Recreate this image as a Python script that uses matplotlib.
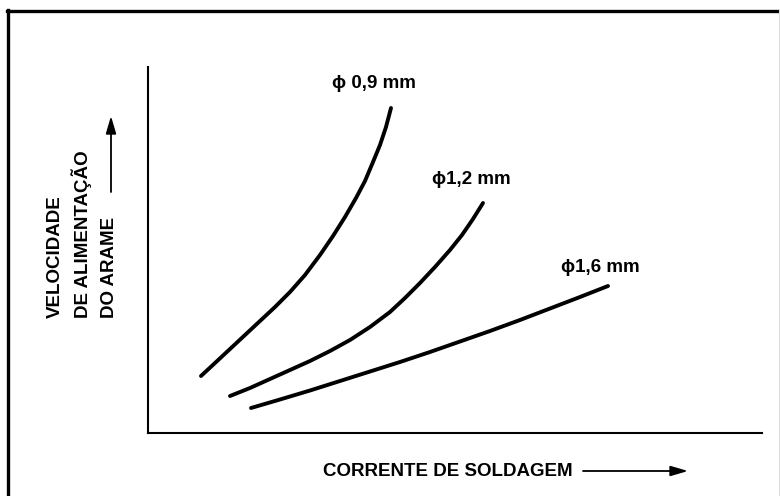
import matplotlib.pyplot as plt
from matplotlib.lines import Line2D

# Dados (unidades arbitrarias, sem escala no original)
x_09 = [53, 67, 82, 97, 112, 127, 142, 157, 172, 185, 197, 208, 217, 225, 232, 238, 243]
y_09 = [57, 70, 84, 98, 112, 126, 141, 158, 178, 197, 216, 235, 252, 271, 288, 306, 325]

x_12 = [82, 102, 122, 142, 162, 182, 202, 222, 242, 257, 272, 287, 302, 314, 325, 335]
y_12 = [37, 45, 54, 63, 72, 82, 93, 106, 121, 135, 150, 166, 183, 198, 214, 230]

x_16 = [103, 132, 162, 192, 222, 252, 282, 312, 342, 372, 402, 432, 460]
y_16 = [25, 33.5, 42.5, 52, 61.5, 71, 81, 91.5, 102, 113, 124.5, 136, 147]

rotulos = ["\u03d5 0,9 mm", "\u03d51,2 mm", "\u03d51,6 mm"]
pos_rotulos = [(226, 349), (323, 253), (452, 166)]

rotulo_y = ["VELOCIDADE", "DE ALIMENTAÇÃO", "DO ARAME"]
rotulo_x = "CORRENTE DE SOLDAGEM"

plt.rcParams["font.family"] = ["Liberation Sans Narrow", "Liberation Sans", "DejaVu Sans"]

W, H = 780, 496
fig = plt.figure(figsize=(7.8, 4.96), dpi=100)
ax = fig.add_axes([148 / W, 1 - 433 / H, (762 - 148) / W, (433 - 67) / H])

for xs, ys in [(x_09, y_09), (x_12, y_12), (x_16, y_16)]:
    ax.plot(xs, ys, color="black", linewidth=2.8, solid_capstyle="round",
            solid_joinstyle="round")

for txt, (tx, ty) in zip(rotulos, pos_rotulos):
    ax.text(tx, ty, txt, ha="center", va="center", fontsize=13.5, fontweight="bold")

ax.set_xlim(0, 614)
ax.set_ylim(0, 366)
ax.set_xticks([])
ax.set_yticks([])
ax.spines["top"].set_visible(False)
ax.spines["right"].set_visible(False)
ax.spines["left"].set_linewidth(1.5)
ax.spines["bottom"].set_linewidth(1.5)

seta = dict(arrowstyle="-|>,head_length=0.75,head_width=0.22", color="black", lw=1.3,
            mutation_scale=14, shrinkA=0, shrinkB=0)

# Rotulo do eixo X com seta
fig.text(323 / W, 1 - 471 / H, rotulo_x, ha="left", va="center",
         fontsize=13.5, fontweight="bold")
fig.add_artist(plt.Annotation("", xy=(688 / W, 1 - 471 / H), xytext=(583 / W, 1 - 471 / H),
                              xycoords="figure fraction", textcoords="figure fraction",
                              arrowprops=seta))

# Rotulo do eixo Y (tres linhas) com seta
for txt, cx in zip(rotulo_y, [55, 82, 109]):
    fig.text(cx / W, 1 - 318 / H, txt, rotation=90, ha="center", va="bottom",
             fontsize=13.5, fontweight="bold")
fig.add_artist(plt.Annotation("", xy=(111 / W, 1 - 116 / H), xytext=(111 / W, 1 - 192 / H),
                              xycoords="figure fraction", textcoords="figure fraction",
                              arrowprops=seta))

# Moldura
fig.add_artist(Line2D([7 / W, 780 / W], [1 - 10.5 / H, 1 - 10.5 / H], color="black", lw=2.4))
fig.add_artist(Line2D([7.5 / W, 7.5 / W], [0, 1 - 9.5 / H], color="black", lw=2.4))
fig.add_artist(Line2D([778.5 / W, 778.5 / W], [0, 1 - 10 / H], color="#dddddd", lw=0.8))

plt.savefig("out.png", dpi=100)
